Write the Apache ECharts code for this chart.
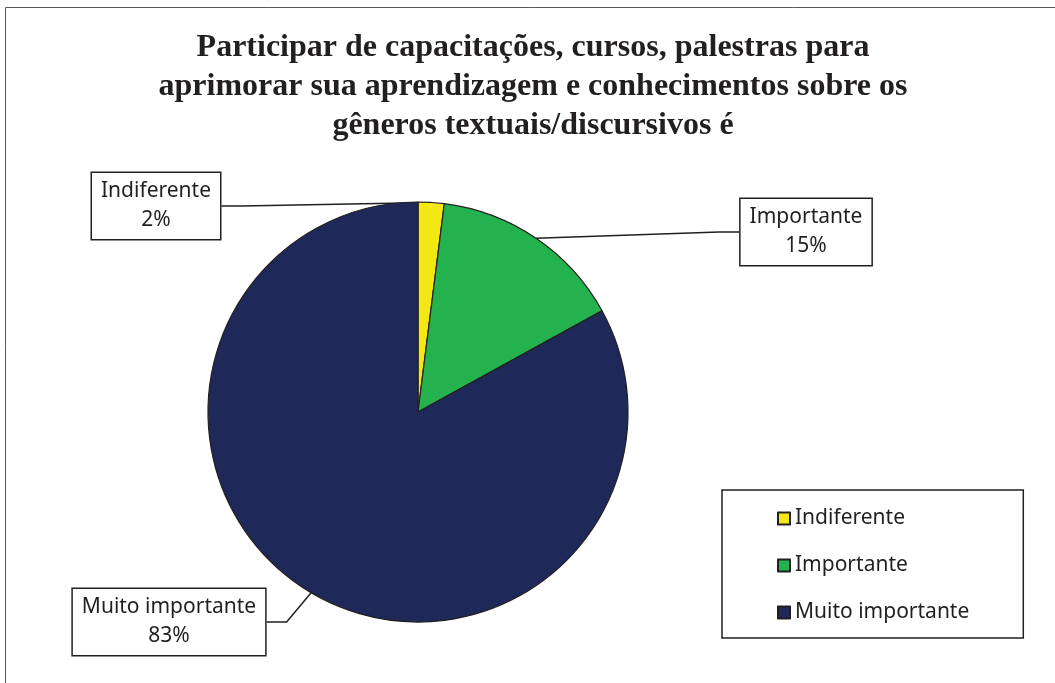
<!DOCTYPE html>
<html>
<head>
<meta charset="utf-8">
<script src="https://cdn.jsdelivr.net/npm/echarts@6/dist/echarts.min.js"></script>
<style>html,body{margin:0;padding:0;background:#fff;}#c{width:1055px;height:683px;}</style>
</head>
<body>
<div id="c"></div>
<script>
const titleLines = [
  'Participar de capacitações, cursos, palestras para',
  'aprimorar sua aprendizagem e conhecimentos sobre os',
  'gêneros textuais/discursivos é'
];
const categories = ['Indiferente', 'Importante', 'Muito importante'];
const values = [2, 15, 83];
const colors = ['#F4E814', '#23B24D', '#1E2859'];
// label box centres (layout only)
const labelCentres = [[156, 206], [806, 232], [169, 622]];

const chart = echarts.init(document.getElementById('c'), null, {renderer: 'canvas'});
const dark = '#231F20';
const data = categories.map((c, i) => ({name: c, value: values[i], itemStyle: {color: colors[i]}}));

chart.setOption({
  animation: false,
  backgroundColor: '#fff',
  graphic: [{
    type: 'rect', shape: {x: 5.5, y: 7.5, width: 1100, height: 720},
    style: {fill: 'none', stroke: '#5a5a5a', lineWidth: 1}, silent: true
  }],
  title: {
    text: titleLines.join('\n'),
    left: 533, top: 28, textAlign: 'center', padding: 0,
    textStyle: {fontFamily: 'Liberation Serif', fontWeight: 'bold', fontSize: 32, lineHeight: 39, color: dark}
  },
  legend: {
    orient: 'vertical', left: 722, top: 490,
    padding: [18, 54, 15, 55], itemGap: 26, itemWidth: 12, itemHeight: 12,
    borderColor: dark, borderWidth: 1.5, icon: 'rect',
    textStyle: {fontFamily: 'Noto Sans', fontSize: 21, color: dark},
    data: categories
  },
  series: [{
    type: 'pie',
    center: [418, 412], radius: 210,
    startAngle: 90, clockwise: true,
    itemStyle: {borderColor: dark, borderWidth: 1.2},
    label: {
      show: true, position: 'outside',
      formatter: '{b}\n{d}%',
      fontFamily: 'Noto Sans', fontSize: 21, lineHeight: 29, color: dark,
      align: 'center',
      backgroundColor: '#fff', borderColor: dark, borderWidth: 1.5,
      padding: [4, 9]
    },
    labelLine: {show: true, length: 20, length2: 20, lineStyle: {color: dark, width: 1.5}},
    labelLayout: function (p) {
      const c = labelCentres[p.dataIndex];
      return {x: c[0], y: c[1], align: 'center', verticalAlign: 'middle'};
    },
    emphasis: {disabled: true},
    data: data
  }]
});
</script>
</body>
</html>
